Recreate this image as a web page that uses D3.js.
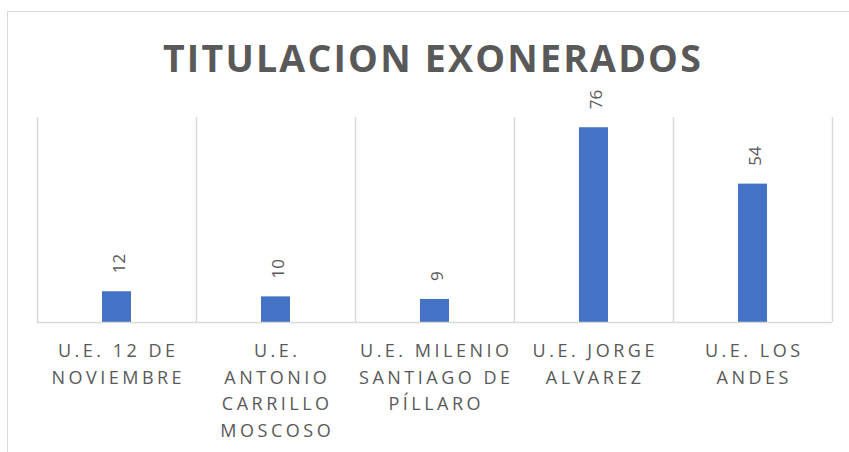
<!DOCTYPE html>
<html>
<head>
<meta charset="utf-8">
<script src="https://cdn.jsdelivr.net/npm/d3@7"></script>
<style>
  body { margin: 0; background: #fff; }
  text { font-family: "Open Sans", sans-serif; fill: #595959; }
</style>
</head>
<body>
<script>
// chart data
var categories = ["U.E. 12 DE NOVIEMBRE", "U.E. ANTONIO CARRILLO MOSCOSO", "U.E. MILENIO SANTIAGO DE PÍLLARO", "U.E. JORGE ALVAREZ", "U.E. LOS ANDES"];
var tickLines = [
    ["U.E. 12 DE", "NOVIEMBRE"],
    ["U.E.", "ANTONIO", "CARRILLO", "MOSCOSO"],
    ["U.E. MILENIO", "SANTIAGO DE", "PÍLLARO"],
    ["U.E. JORGE", "ALVAREZ"],
    ["U.E. LOS", "ANDES"]
];
var values = [12, 10, 9, 76, 54];
var chartTitle = "TITULACION EXONERADOS";

window.onload = function(){

    var w = 849, h = 452;
    var left = 37, right = 832, top = 117, bottom = 322;

    var svg = d3.select("body")
        .append("svg")
        .attr("width", w)
        .attr("height", h)
        .attr("class", "container");

    //chart frame, cropped on right and bottom
    svg.append("rect")
        .attr("class", "frame")
        .attr("x", 7.5)
        .attr("y", 11.5)
        .attr("width", 900)
        .attr("height", 500)
        .style("fill", "none")
        .style("stroke", "#d9d9d9")
        .style("stroke-width", 1);

    var x = d3.scaleBand()
        .domain(categories)
        .range([left, right])
        .paddingInner(0)
        .paddingOuter(0);

    var y = d3.scaleLinear()
        .domain([0, 80])
        .range([bottom, top]);

    //vertical category separators
    var edges = categories.map(function(d){ return x(d); }).concat([right]);
    svg.selectAll(".sep")
        .data(edges)
        .enter()
        .append("line")
        .attr("class", "sep")
        .attr("x1", function(d){ return Math.round(d) + 0.5; })
        .attr("x2", function(d){ return Math.round(d) + 0.5; })
        .attr("y1", top)
        .attr("y2", bottom)
        .style("stroke", "#d9d9d9")
        .style("stroke-width", 1.5);

    var barW = 29;
    svg.selectAll(".bar")
        .data(values)
        .enter()
        .append("rect")
        .attr("class", "bar")
        .attr("x", function(d, i){ return x(categories[i]) + x.bandwidth()/2 - barW/2; })
        .attr("y", function(d){ return y(d); })
        .attr("width", barW)
        .attr("height", function(d){ return y(0) - y(d); })
        .style("fill", "#4472c4");

    //baseline
    svg.append("line")
        .attr("x1", left)
        .attr("x2", right)
        .attr("y1", bottom + 0.5)
        .attr("y2", bottom + 0.5)
        .style("stroke", "#d9d9d9")
        .style("stroke-width", 1.5);

    //rotated value labels
    svg.selectAll(".val")
        .data(values)
        .enter()
        .append("text")
        .attr("class", "val")
        .attr("transform", function(d, i){
            var cx = x(categories[i]) + x.bandwidth()/2;
            return "translate(" + (cx + 8) + "," + (y(d) - 18) + ") rotate(-90)";
        })
        .style("font-size", "17px")
        .text(function(d){ return d; });

    //category labels
    var ticks = svg.selectAll(".tick")
        .data(tickLines)
        .enter()
        .append("text")
        .attr("class", "tick")
        .attr("text-anchor", "middle")
        .style("font-size", "18px")
        .style("letter-spacing", "3.5px");

    ticks.selectAll("tspan")
        .data(function(d, i){ return d.map(function(t){ return {t: t, i: i}; }); })
        .enter()
        .append("tspan")
        .attr("x", function(d){ return x(categories[d.i]) + x.bandwidth()/2 + 1.75; })
        .attr("y", function(d, j){ return 357 + j*26.5; })
        .text(function(d){ return d.t; });

    //title
    svg.append("text")
        .attr("class", "title")
        .attr("x", 433)
        .attr("y", 72)
        .attr("text-anchor", "middle")
        .style("font-size", "37.5px")
        .style("font-weight", "bold")
        .style("letter-spacing", "2.2px")
        .text(chartTitle);
};
</script>
</body>
</html>
